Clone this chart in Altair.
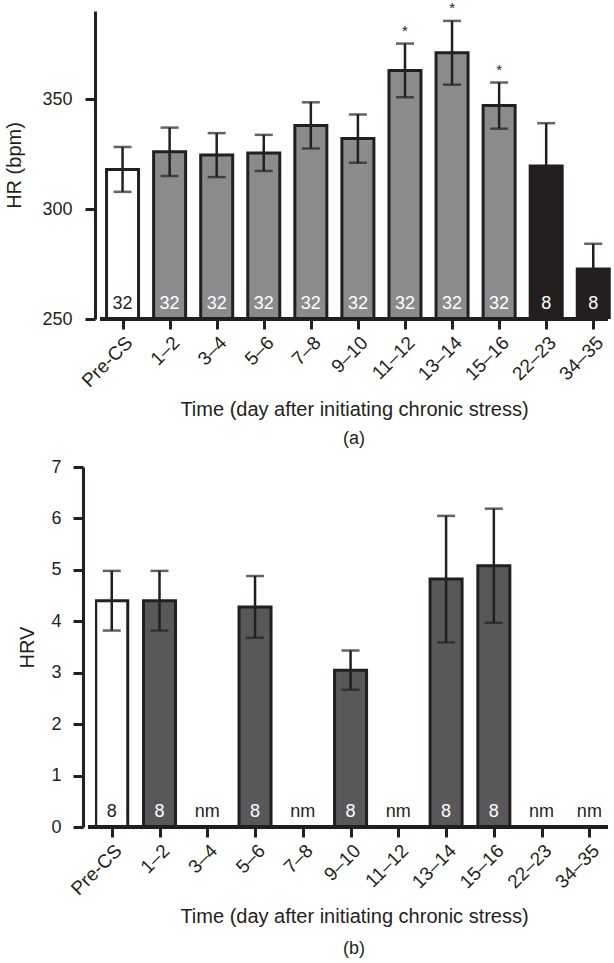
import json
import altair as alt
import pandas as pd

# ---------------- data ----------------
categories = ["Pre-CS", "1–2", "3–4", "5–6", "7–8", "9–10", "11–12",
              "13–14", "15–16", "22–23", "34–35"]

hr_mean = [318.0, 326.0, 324.5, 325.5, 338.0, 332.0, 363.0, 371.0, 347.0, 319.5, 272.7]
hr_sem = [10.2, 11.0, 10.0, 8.2, 10.5, 11.0, 12.2, 14.5, 10.5, 19.5, 11.5]
hr_n = ["32", "32", "32", "32", "32", "32", "32", "32", "32", "8", "8"]
hr_group = ["pre", "stress", "stress", "stress", "stress", "stress", "stress",
            "stress", "stress", "recovery", "recovery"]
hr_sig = ["", "", "", "", "", "", "*", "*", "*", "", ""]

hrv_mean = [4.40, 4.40, None, 4.28, None, 3.05, None, 4.82, 5.08, None, None]
hrv_sem = [0.58, 0.58, None, 0.60, None, 0.38, None, 1.23, 1.11, None, None]
hrv_n = ["8", "8", "nm", "8", "nm", "8", "nm", "8", "8", "nm", "nm"]
hrv_group = ["pre", "stress", "none", "stress", "none", "stress", "none",
             "stress", "stress", "none", "none"]

idx = list(range(len(categories)))

hr = pd.DataFrame({"cat": categories, "idx": idx, "mean": hr_mean, "sem": hr_sem,
                   "n": hr_n, "group": hr_group, "sig": hr_sig})
hr["lo"] = hr["mean"] - hr["sem"]
hr["hi"] = hr["mean"] + hr["sem"]

hrv = pd.DataFrame({"cat": categories, "idx": idx, "mean": hrv_mean, "sem": hrv_sem,
                    "n": hrv_n, "group": hrv_group})
hrv["lo"] = hrv["mean"] - hrv["sem"]
hrv["hi"] = hrv["mean"] + hrv["sem"]

# ---------------- style ----------------
FONT = "Liberation Sans"
INK = "#231f20"
XTITLE = "Time (day after initiating chronic stress)"
LABEL_EXPR = json.dumps(categories, ensure_ascii=False) + "[datum.value]"


def x_enc(xdomain, title_pad):
    return alt.X(
        "idx:Q", title=XTITLE,
        scale=alt.Scale(domain=xdomain, nice=False, zero=False),
        axis=alt.Axis(values=idx, labelExpr=LABEL_EXPR, labelAngle=-45, labelFont=FONT,
                      labelFontSize=19, labelColor=INK, labelPadding=4, tickSize=10,
                      tickWidth=3, tickColor=INK, domain=False, grid=False,
                      labelFlush=False, labelOverlap=False,
                      titleFont=FONT, titleFontSize=20, titleFontWeight="normal",
                      titleColor=INK, titlePadding=title_pad),
    )


def y_axis(title, values, title_pad, offset, label_pad):
    return alt.Axis(title=title, values=values, grid=False, labelFont=FONT,
                    labelFontSize=18, labelColor=INK, labelPadding=label_pad, tickSize=10,
                    tickWidth=3, tickColor=INK, domainWidth=3, domainColor=INK,
                    titleFont=FONT, titleFontSize=20, titleFontWeight="normal",
                    titleColor=INK, titlePadding=title_pad, offset=offset)


def panel(df, xdomain, rule_start, domain, values, ytitle, title_pad, y_offset, label_pad,
          color_dom, color_rng, caption, w, h, xtitle_pad, cap_offset):
    yscale = alt.Scale(domain=domain, nice=False, zero=False)
    base = alt.Chart(df).encode(x=x_enc(xdomain, xtitle_pad))
    bars = base.mark_bar(stroke=INK, strokeWidth=3, size=32, clip=True).encode(
        y=alt.Y("mean:Q", scale=yscale,
                axis=y_axis(ytitle, values, title_pad, y_offset, label_pad)),
        y2=alt.datum(domain[0]),
        fill=alt.Fill("group:N", scale=alt.Scale(domain=color_dom, range=color_rng), legend=None),
    )
    baseline = base.mark_rule(color=INK, strokeWidth=3).encode(
        x=alt.datum(rule_start), x2=alt.datum(xdomain[1]), y=alt.datum(domain[0]))
    whisk = base.mark_rule(color=INK, strokeWidth=2.5).encode(y="lo:Q", y2="hi:Q")
    cap_hi = base.mark_tick(color=INK, thickness=2.5, size=18, orient="horizontal").encode(y="hi:Q")
    cap_lo = base.mark_tick(color=INK, thickness=2.5, size=18, orient="horizontal").encode(y="lo:Q")
    labels = base.mark_text(font=FONT, fontSize=18, baseline="alphabetic", dy=-10).encode(
        y=alt.datum(domain[0]),
        text="n:N",
        color=alt.condition("datum.group == 'pre' || datum.group == 'none'",
                            alt.value(INK), alt.value("white")),
    )
    layers = [bars, baseline, whisk, cap_hi, cap_lo, labels]
    if "sig" in df.columns:
        stars = base.mark_text(font=FONT, fontSize=15, baseline="middle", dy=-13,
                               color=INK).encode(y="hi:Q", text="sig:N")
        layers.append(stars)
    return alt.layer(*layers).properties(
        width=w, height=h,
        title=alt.TitleParams(caption, orient="bottom", font=FONT, fontSize=18,
                              fontWeight="normal", color=INK, offset=cap_offset),
    )


# both plot areas share the same left origin; the HRV y axis sits 12 px further left
top = panel(hr, [-0.479, 10.313], -0.479, [250, 390], [250, 300, 350], "HR (bpm)", 17, 0, 13,
            ["pre", "stress", "recovery"], ["#ffffff", "#8b8b8d", INK], "(a)",
            518, 308, 9, 11)
bottom = panel(hrv, [-0.246, 10.39], -0.493, [0, 7], [0, 1, 2, 3, 4, 5, 6, 7], "HRV", 13, 12, 12,
               ["pre", "stress", "none"], ["#ffffff", "#58585a", "#ffffff"], "(b)",
               518, 360, 8, 14)

chart = alt.vconcat(top, bottom, spacing=9).resolve_scale(
    fill="independent", color="independent"
).properties(
    padding={"left": 4, "top": 0, "right": 0, "bottom": 0}
).configure_view(stroke=None)

chart.save("out.html", embed_options={"renderer": "svg", "actions": False})
